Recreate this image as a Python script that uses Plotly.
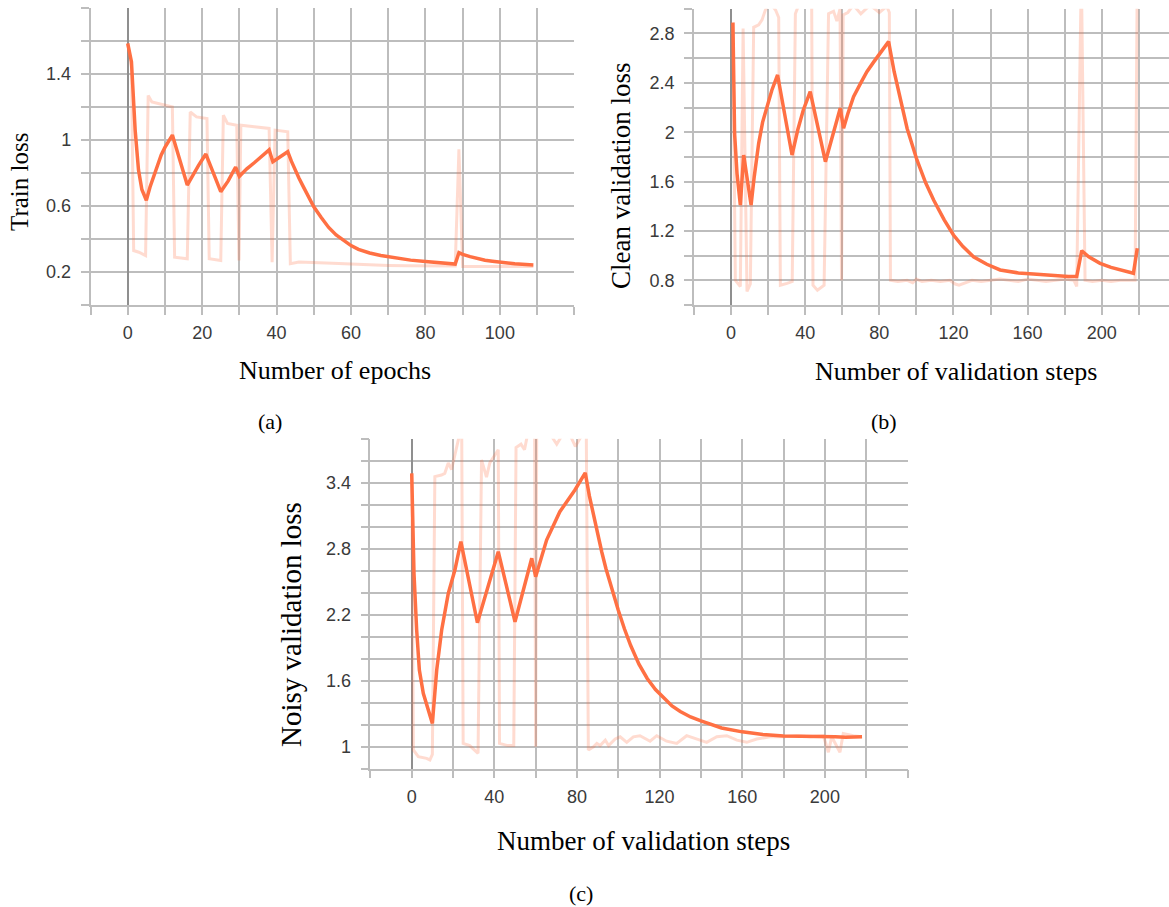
import plotly.graph_objects as go

# ---------------- data ----------------
# (a) Train loss vs epochs
A_EPOCH_RAW = [0, 1, 1.6, 3, 4.8, 5.5, 6.5, 8.5, 12, 12.6, 16, 16.8, 18.5, 21.3, 21.9, 25, 25.7, 26.8, 29.3, 29.9,
               30.4, 34, 38, 38.8, 39.6, 43, 43.7, 46, 50, 55, 60, 65, 70, 75, 80, 88, 89, 90, 95, 100, 105, 109]
A_LOSS_RAW = [1.58, 1.45, 0.33, 0.32, 0.30, 1.27, 1.23, 1.22, 1.20, 0.29, 0.28, 1.17, 1.14, 1.13, 0.28, 0.27, 1.15, 1.10, 1.09, 0.27,
              1.09, 1.08, 1.07, 0.26, 1.06, 1.05, 0.25, 0.26, 0.255, 0.253, 0.248, 0.242, 0.24, 0.238, 0.237, 0.236, 0.944, 0.234, 0.234, 0.234, 0.234, 0.234]
A_EPOCH_SMOOTH = [0, 1, 2, 2.9, 3.8, 5, 6, 7, 8, 9, 10, 11, 12, 16, 17, 18, 19, 20, 21, 25,
                  26, 27, 28, 29, 30, 32, 34, 36, 38, 39, 41, 43, 44, 45, 46, 47, 48, 49, 50, 52,
                  54, 56, 58, 60, 62, 65, 68, 72, 76, 80, 84, 88, 89, 90, 92, 94, 96, 98, 101, 104, 109]
A_LOSS_SMOOTH = [1.586, 1.475, 1.06, 0.818, 0.70, 0.635, 0.715, 0.785, 0.85, 0.91, 0.955, 0.995, 1.03, 0.727, 0.77, 0.805, 0.845, 0.88, 0.915, 0.687,
                 0.72, 0.752, 0.795, 0.835, 0.78, 0.825, 0.862, 0.90, 0.94, 0.868, 0.90, 0.929, 0.87, 0.815, 0.77, 0.725, 0.68, 0.635, 0.595, 0.53,
                 0.47, 0.425, 0.39, 0.36, 0.337, 0.315, 0.30, 0.285, 0.272, 0.263, 0.255, 0.248, 0.317, 0.307, 0.293, 0.280, 0.271, 0.265, 0.257, 0.250, 0.242]
A_XTICKS = [0, 20, 40, 60, 80, 100]
A_YTICKS = [0.2, 0.6, 1.0, 1.4]
A_YTICKTEXT = ["0.2", "0.6", "1", "1.4"]

# (b) Clean validation loss vs validation steps
B_STEP_RAW = [1, 2.3, 5, 6.5, 8.6, 10.4, 12.2, 14.9, 16.7, 18.5, 21, 24, 25.7, 26.6, 30.2, 33, 34.7, 37, 41, 43.5,
              44.2, 46.6, 50.2, 52.6, 55.3, 57.1, 58.8, 59.6, 60.5, 63, 66, 70, 75, 80, 84, 85.4, 86, 90, 95, 98,
              100, 103, 108, 113, 118, 121, 123, 126, 130, 135, 140, 145, 150, 155, 160, 165, 170, 175, 180, 185,
              186.5, 189, 191, 195, 200, 205, 210, 215, 218, 219.2]
B_LOSS_RAW = [2.89, 0.80, 0.75, 2.84, 0.71, 0.77, 2.85, 2.87, 2.91, 2.99, 3.05, 2.99, 2.93, 0.76, 0.775, 0.79, 2.96, 3.05, 3.1, 3.05,
              0.76, 0.72, 0.76, 2.96, 2.98, 2.90, 3.0, 0.80, 2.95, 2.97, 3.03, 2.96, 3.03, 2.97, 3.02, 2.97, 0.80, 0.79, 0.80, 0.78,
              0.81, 0.79, 0.80, 0.79, 0.80, 0.77, 0.76, 0.78, 0.80, 0.79, 0.80, 0.81, 0.80, 0.79, 0.81, 0.80, 0.79, 0.80, 0.81, 0.80,
              0.75, 3.3, 0.80, 0.79, 0.80, 0.79, 0.80, 0.80, 0.80, 3.3]
B_STEP_SMOOTH = [1, 1.9, 3.2, 5, 6.8, 10.8, 12.5, 14.9, 17, 19.4, 22, 25.1, 32.9, 36, 39, 42.7, 50.9, 58.9, 60.7, 63,
                 66.1, 70, 73.3, 77, 80.5, 83, 85, 88, 91.3, 95, 100.3, 105, 109.3, 115, 120, 125, 130.8, 138, 145.2, 155,
                 163.1, 173.9, 182, 186.5, 189.2, 193, 199.1, 205, 211, 217.1, 219.2]
B_LOSS_SMOOTH = [2.888, 1.99, 1.667, 1.41, 1.815, 1.41, 1.64, 1.91, 2.08, 2.207, 2.34, 2.464, 1.815, 2.02, 2.18, 2.329, 1.761, 2.194, 2.032, 2.15,
                 2.288, 2.40, 2.491, 2.57, 2.64, 2.69, 2.734, 2.49, 2.27, 2.03, 1.775, 1.59, 1.451, 1.29, 1.167, 1.075, 0.991, 0.93, 0.884, 0.86,
                 0.851, 0.835, 0.83, 0.83, 1.04, 0.99, 0.938, 0.905, 0.878, 0.857, 1.06]
B_XTICKS = [0, 40, 80, 120, 160, 200]
B_YTICKS = [0.8, 1.2, 1.6, 2.0, 2.4, 2.8]
B_YTICKTEXT = ["0.8", "1.2", "1.6", "2", "2.4", "2.8"]

# (c) Noisy validation loss vs validation steps
C_STEP_RAW = [0, 0.8, 3.2, 7.2, 8.8, 10, 11.2, 14.4, 16, 17.7, 19.3, 21.7, 23.3, 24.2, 24.9, 28.1, 32.1, 33.8, 36.2, 37.8,
              41.9, 42.5, 46.5, 49.4, 50.5, 52.9, 54.6, 56.2, 59.5, 60, 60.5, 65, 70.2, 75, 79.2, 84.5, 85.5, 88, 89.6, 91.2,
              93.7, 95.3, 98.5, 100.9, 104.1, 107.3, 110.5, 115.4, 118.6, 123.4, 128.3, 133.1, 138, 142.8, 147.7, 152.5, 157.4, 162.2, 167, 173.5,
              179.9, 186.4, 192.8, 199.3, 201.7, 203.3, 207.3, 208.9, 213.8, 217.8]
C_LOSS_RAW = [3.485, 0.97, 0.909, 0.894, 0.88, 0.93, 3.455, 3.47, 3.485, 3.58, 3.52, 3.70, 3.85, 3.9, 1.03, 1.01, 0.94, 3.606, 3.45, 3.58,
              3.70, 1.03, 1.01, 1.01, 3.72, 3.75, 3.70, 3.85, 3.9, 1.0, 3.9, 3.9, 3.75, 3.9, 3.73, 3.9, 0.97, 1.0, 1.03, 1.01,
              1.06, 1.01, 1.07, 1.09, 1.04, 1.09, 1.10, 1.05, 1.10, 1.05, 1.03, 1.10, 1.07, 1.04, 1.09, 1.10, 1.06, 1.04, 1.07, 1.09,
              1.09, 1.10, 1.09, 1.10, 0.95, 1.09, 0.95, 1.12, 1.10, 1.09]
C_STEP_SMOOTH = [0, 1.1, 2.4, 3.7, 5.6, 8.1, 10, 12.1, 14.5, 17.7, 20.9, 23.8, 31.8, 41.9, 50, 58.1, 60, 65.3, 71.7, 79,
                 84, 86, 88, 90, 92, 94, 96, 98, 100, 103, 106, 110, 114, 118, 122, 126, 130, 135, 140, 150,
                 160, 170, 180, 190, 200, 205, 210, 214, 218]
C_LOSS_SMOOTH = [3.485, 2.576, 2.061, 1.697, 1.485, 1.318, 1.212, 1.697, 2.061, 2.394, 2.606, 2.864, 2.127, 2.773, 2.136, 2.713, 2.545, 2.879, 3.136, 3.334,
                 3.49, 3.28, 3.10, 2.93, 2.77, 2.62, 2.49, 2.36, 2.24, 2.07, 1.92, 1.75, 1.62, 1.52, 1.44, 1.37, 1.32, 1.27, 1.235, 1.17,
                 1.135, 1.11, 1.097, 1.095, 1.097, 1.09, 1.085, 1.09, 1.09]
C_XTICKS = [0, 40, 80, 120, 160, 200]
C_YTICKS = [1.0, 1.6, 2.2, 2.8, 3.4]
C_YTICKTEXT = ["1", "1.6", "2.2", "2.8", "3.4"]

# ---------------- styling ----------------
W, H = 1169, 907
ORANGE = "#ff7043"
PALE = "rgba(255,112,67,0.25)"
GRID = "#bdbdbd"
ZERO = "#8f8f8f"
TICKFONT = dict(family="Liberation Sans, Arial, Helvetica, sans-serif", size=18, color="#3a3a3a")
SERIF = "Liberation Serif, Times New Roman, serif"


def px_x(p):
    return p / W


def px_y(p):
    return 1 - p / H


def xaxis(domain, rng, anchor, tickvals, minor_dtick):
    return dict(domain=domain, range=rng, anchor=anchor, fixedrange=True,
                tickmode="array", tickvals=tickvals, ticktext=[str(v) for v in tickvals],
                ticks="outside", ticklen=8, tickwidth=1.5, tickcolor=GRID,
                showgrid=True, gridcolor=GRID, gridwidth=1.5,
                showline=True, linecolor=GRID, linewidth=1.5,
                zeroline=True, zerolinecolor=ZERO, zerolinewidth=2.2,
                tickfont=TICKFONT, ticklabelstandoff=3,
                minor=dict(tickmode="linear", tick0=0, dtick=minor_dtick, ticks="outside", ticklen=8,
                           tickwidth=1.5, tickcolor=GRID, showgrid=True, gridcolor=GRID, gridwidth=1.5))


def yaxis(domain, rng, anchor, tickvals, ticktext, minor_dtick, tick0):
    return dict(domain=domain, range=rng, anchor=anchor, fixedrange=True,
                tickmode="array", tickvals=tickvals, ticktext=ticktext,
                ticks="outside", ticklen=8, tickwidth=1.5, tickcolor=GRID,
                showgrid=True, gridcolor=GRID, gridwidth=1.5,
                showline=True, linecolor=GRID, linewidth=1.5,
                zeroline=False,
                tickfont=TICKFONT, ticklabelstandoff=6,
                minor=dict(tickmode="linear", tick0=tick0, dtick=minor_dtick, ticks="outside", ticklen=8,
                           tickwidth=1.5, tickcolor=GRID, showgrid=True, gridcolor=GRID, gridwidth=1.5))


fig = go.Figure()

panels = [
    ("x", "y", A_EPOCH_RAW, A_LOSS_RAW, A_EPOCH_SMOOTH, A_LOSS_SMOOTH),
    ("x2", "y2", B_STEP_RAW, B_LOSS_RAW, B_STEP_SMOOTH, B_LOSS_SMOOTH),
    ("x3", "y3", C_STEP_RAW, C_LOSS_RAW, C_STEP_SMOOTH, C_LOSS_SMOOTH),
]
for xa, ya, xr, yr, xs, ys in panels:
    fig.add_trace(go.Scatter(x=xr, y=yr, xaxis=xa, yaxis=ya, mode="lines",
                             line=dict(color=PALE, width=3), hoverinfo="skip", showlegend=False))
    fig.add_trace(go.Scatter(x=xs, y=ys, xaxis=xa, yaxis=ya, mode="lines",
                             line=dict(color=ORANGE, width=3.5), showlegend=False))

fig.update_layout(
    width=W, height=H, autosize=False,
    margin=dict(l=0, r=0, t=0, b=0, pad=0),
    paper_bgcolor="white", plot_bgcolor="white",
    showlegend=False,
    xaxis=xaxis([px_x(90.5), px_x(574.3)], [-10, 120], "y", A_XTICKS, 10),
    yaxis=yaxis([px_y(305), px_y(8)], [0, 1.8], "x", A_YTICKS, A_YTICKTEXT, 0.2, 0),
    xaxis2=xaxis([px_x(694), 1.0], [-20, 236.3], "y2", B_XTICKS, 20),
    yaxis2=yaxis([px_y(305), px_y(8.8)], [0.6, 3.0], "x2", B_YTICKS, B_YTICKTEXT, 0.2, 0.6),
    xaxis3=xaxis([px_x(370.4), px_x(907.5)], [-20, 240], "y3", C_XTICKS, 20),
    yaxis3=yaxis([px_y(768.7), px_y(438.7)], [0.8, 3.8], "x3", C_YTICKS, C_YTICKTEXT, 0.2, 0.8),
)


def note(text, x, y, size, angle=0):
    fig.add_annotation(text=text, x=px_x(x), y=px_y(y), xref="paper", yref="paper",
                       xanchor="center", yanchor="middle", showarrow=False, textangle=angle,
                       font=dict(family=SERIF, size=size, color="black"))


note("Train loss", 20, 182, 25, -90)
note("Clean validation loss", 621, 176, 27, -90)
note("Noisy validation loss", 291, 625, 29, -90)
note("Number of epochs", 335, 370, 26)
note("Number of validation steps", 956, 371, 26)
note("Number of validation steps", 643, 841, 27)
note("(a)", 270, 421, 22)
note("(b)", 884, 421, 22)
note("(c)", 581, 893, 22)

fig.write_html("out.html")
